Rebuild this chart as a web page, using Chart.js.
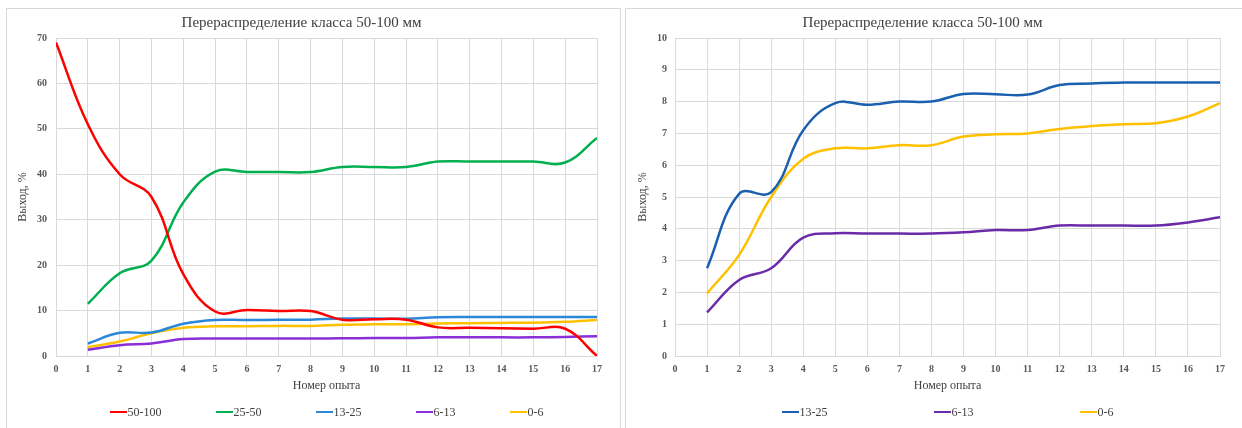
<!DOCTYPE html>
<html><head><meta charset="utf-8">
<script src="https://cdn.jsdelivr.net/npm/chart.js@4.4.1/dist/chart.umd.min.js"></script>
<style>
html,body{margin:0;padding:0;background:#fff;width:1242px;height:428px;overflow:hidden;font-family:"Liberation Serif",serif;}
.panel{position:absolute;border:1px solid #d9d9d9;box-sizing:border-box;}
.wrap{position:absolute;}
.legend{position:absolute;display:flex;justify-content:center;align-items:center;height:16px;font-size:12px;color:#404040;font-family:"Liberation Serif",serif;}
.item{display:flex;align-items:center;white-space:nowrap;}
.swatch{display:inline-block;width:17px;height:2.5px;margin-right:1px;}
</style></head>
<body>
<div class="panel" style="left:6px;top:8px;width:615px;height:440px;"></div>
<div class="panel" style="left:625px;top:8px;width:640px;height:440px;"></div>
<div class="wrap" style="left:6px;top:8px;width:614px;height:420px;"><canvas id="c1" width="614" height="420"></canvas></div>
<div class="wrap" style="left:625px;top:8px;width:617px;height:420px;"><canvas id="c2" width="617" height="420"></canvas></div>
<div class="legend" id="lg1" style="left:56px;width:541px;top:404px;gap:54px;"></div>
<div class="legend" id="lg2" style="left:675px;width:545px;top:404px;gap:106px;"></div>
<script>
// ---- data ----
const chartTitle = 'Перераспределение класса 50-100 мм';
const xTitle = 'Номер опыта';
const yTitle = 'Выход, %';
const trials = [1,2,3,4,5,6,7,8,9,10,11,12,13,14,15,16,17];
const trialsFrom0 = [0,1,2,3,4,5,6,7,8,9,10,11,12,13,14,15,16,17];
const s50_100 = [69,51,40,35,18,9.8,10.1,9.9,9.9,8.0,8.1,8.0,6.3,6.2,6.1,6.0,6.0,0];
const s25_50 = [11.5,18.2,21,33.8,40.6,40.5,40.5,40.5,41.6,41.6,41.6,42.8,42.8,42.8,42.8,42.6,48];
const s13_25 = [2.76,5.1,5.15,7.1,7.95,7.9,8.0,8.0,8.24,8.23,8.22,8.52,8.57,8.6,8.6,8.6,8.6];
const s6_13 = [1.37,2.39,2.76,3.72,3.86,3.85,3.85,3.85,3.89,3.96,3.96,4.1,4.1,4.1,4.1,4.2,4.36];
const s0_6 = [1.97,3.18,5.0,6.2,6.53,6.53,6.63,6.63,6.9,6.97,7.0,7.14,7.23,7.29,7.32,7.53,7.95];
const leftLabels = ['50-100','25-50','13-25','6-13','0-6'];
const rightLabels = ['13-25','6-13','0-6'];
const xTicks = {min:0, max:17, step:1};
const leftY = {min:0, max:70, step:10};
const rightY = {min:0, max:10, step:1};

// ---- styles ----
const FONT = '"Liberation Serif", "Times New Roman", serif';
const GRID = '#d9d9d9';
const TXT = '#595959';

function pts(xs, ys){ return ys.map((v,i)=>({x:xs[i], y:v})); }
function ds(label, xs, ys, color){
  return {label, data: pts(xs, ys), borderColor: color, backgroundColor: color,
    borderWidth: 2.5, pointRadius: 0, tension: 0.4, fill: false};
}

function makeChart(id, datasets, yr, padRight, yTitlePad, yTickPad){
  return new Chart(document.getElementById(id), {
    type: 'line',
    data: {datasets},
    options: {
      responsive: false, animation: false,
      layout: {padding: {left:0, right:padRight, top:0, bottom:35}},
      plugins: {
        legend: {display:false}, tooltip: {enabled:false},
        title: {display:true, text: chartTitle, color:'#404040',
          font:{family:FONT, size:15, weight:'normal'}, padding:{top:6, bottom:6}}
      },
      scales: {
        x: {type:'linear', min:xTicks.min, max:xTicks.max,
          ticks:{stepSize:xTicks.step, padding:7, color:TXT, font:{family:FONT, size:10, weight:'bold'}, maxRotation:0, autoSkip:false},
          grid:{color:GRID, drawTicks:false}, border:{color:GRID},
          title:{display:true, text:xTitle, color:'#404040', font:{family:FONT, size:12}, padding:{top:4, bottom:0}},
          afterFit: s => { s.height = 37; }
        },
        y: {type:'linear', min:yr.min, max:yr.max,
          ticks:{stepSize:yr.step, padding:yTickPad, color:TXT, font:{family:FONT, size:10, weight:'bold'}},
          grid:{color:GRID, drawTicks:false}, border:{color:GRID},
          title:{display:true, text:yTitle, color:'#404040', font:{family:FONT, size:12}, padding:{top:yTitlePad, bottom:0}},
          afterFit: s => { s.width = 50; }
        }
      }
    }
  });
}

const leftColors = ['#ff0000','#00b050','#2b88d8','#8a2ed8','#ffc000'];
const rightColors = ['#1a5fb0','#6b2aa8','#ffc000'];
const leftSeries = [[trialsFrom0, s50_100],[trials, s25_50],[trials, s13_25],[trials, s6_13],[trials, s0_6]];
const rightSeries = [[trials, s13_25],[trials, s6_13],[trials, s0_6]];

const c1 = makeChart('c1', leftSeries.map((s,i)=>ds(leftLabels[i], s[0], s[1], leftColors[i])), leftY, 23, 9.5, 9);
const c2 = makeChart('c2', rightSeries.map((s,i)=>ds(rightLabels[i], s[0], s[1], rightColors[i])), rightY, 22, 10.5, 8);

function buildLegend(elId, chart){
  const el = document.getElementById(elId);
  chart.data.datasets.forEach(d => {
    const it = document.createElement('div'); it.className = 'item';
    const sw = document.createElement('span'); sw.className = 'swatch'; sw.style.background = d.borderColor;
    const tx = document.createElement('span'); tx.textContent = d.label;
    it.appendChild(sw); it.appendChild(tx); el.appendChild(it);
  });
}
buildLegend('lg1', c1);
buildLegend('lg2', c2);
</script>
</body></html>
